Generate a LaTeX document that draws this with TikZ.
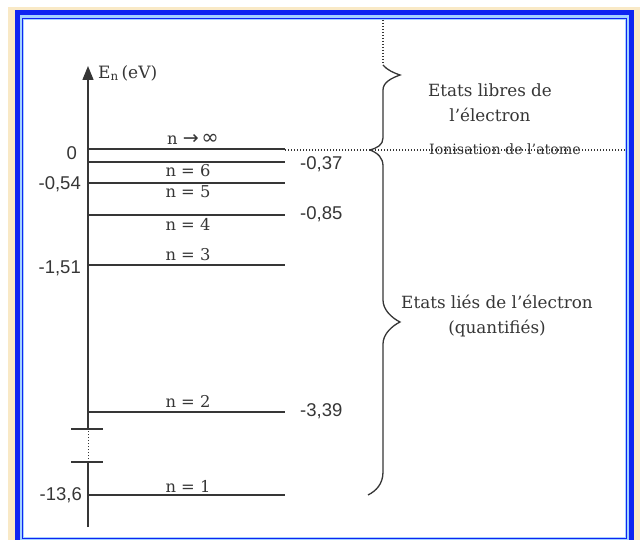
\documentclass[tikz,border=0pt]{standalone}
\usepackage{amsmath}
\usepackage{fontspec}
\setmainfont{DejaVu Serif}
\newfontfamily\numfont{Liberation Sans}
\newfontfamily\symbfont{DejaVu Sans}
\usetikzlibrary{arrows.meta}
\definecolor{framebl}{HTML}{0F24F2}
\definecolor{framelt}{HTML}{A4D2FF}
\definecolor{parch}{HTML}{F9E9C6}
\definecolor{inkgray}{HTML}{363636}

\begin{document}
\begin{tikzpicture}[x=1pt, y=-1pt,
    level/.style={draw=inkgray, line width=1.4pt},
    dots/.style={draw=inkgray, line width=1.2pt, dash pattern=on 1.2pt off 1.8pt},
    brace/.style={draw=inkgray, line width=1.3pt},
    nlabel/.style={text=inkgray, inner sep=0pt, font=\fontsize{16.3}{19}\selectfont},
    evlabel/.style={text=inkgray, inner sep=0pt, font=\numfont\fontsize{18.5}{22}\selectfont},
    statelabel/.style={text=inkgray, inner sep=0pt, align=center, font=\fontsize{16.8}{25}\selectfont}]
  \useasboundingbox (0,0) rectangle (640,540);

  % Frame
  \fill[white] (0,0) rectangle (640,540);
  \fill[parch] (8,7) rectangle (640,540);
  \fill[framebl] (15,10) rectangle (634,548);
  \fill[framelt] (20,15) rectangle (629,543);
  \draw[framebl, line width=1pt] (22.5,18.5) rectangle (626.5,538);
  \fill[white] (24,20) rectangle (625,536.5);

  % Energy axis (broken between n=2 and n=1)
  \draw[level] (88,527) -- (88,462);
  \draw[dots, line width=1pt] (88,462) -- (88,429);
  \draw[level, -{Triangle[length=14pt, width=11pt]}] (88,429) -- (88,66);
  \draw[level] (71,429) -- (103,429);
  \draw[level] (71,462) -- (103,462);
  \node[nlabel, anchor=west, font=\fontsize{17}{20}\selectfont] (axlabel) at (98,73) {E$_{\text{n}}$\,(eV)};

  % Levels
  \draw[level] (88,149) -- (285,149);
  \draw[level] (88,162) -- (285,162);
  \draw[level] (88,183) -- (285,183);
  \draw[level] (88,215) -- (285,215);
  \draw[level] (88,265) -- (285,265);
  \draw[level] (88,412) -- (285,412);
  \draw[level] (88,495) -- (285,495);

  % Level names
  \node[nlabel] (ninf) at (193,139) {n {\symbfont\fontsize{19}{19}\selectfont→}\,{\symbfont\fontsize{21}{21}\selectfont∞}};
  \node[nlabel] (n6) at (188,171) {n = 6};
  \node[nlabel] (n5) at (188,192) {n = 5};
  \node[nlabel] (n4) at (188,224) {n = 4};
  \node[nlabel] (n3) at (188,255) {n = 3};
  \node[nlabel] (n2) at (188,401) {n = 2};
  \node[nlabel] (n1) at (188,486) {n = 1};

  % Energies, left side
  \node[evlabel, anchor=east] (e0) at (77,153) {0};
  \node[evlabel, anchor=east] (e5) at (81,184) {-0,54};
  \node[evlabel, anchor=east] (e3) at (81,268) {-1,51};
  \node[evlabel, anchor=east] (e1) at (82,495) {-13,6};

  % Energies, right side
  \node[evlabel, anchor=west] (e6) at (300,164) {-0,37};
  \node[evlabel, anchor=west] (e4) at (300,214) {-0,85};
  \node[evlabel, anchor=west] (e2) at (300,411) {-3,39};

  % Ionisation limit
  \draw[dots] (285,150) -- (625,150);
  \draw[dots] (383,20) -- (383,65);
  \node[text=inkgray, inner sep=0pt, font=\fontsize{14.2}{17}\selectfont] (ionis) at (505,149) {Ionisation de l’atome};

  % Braces
  \draw[brace] (383,65) .. controls (387,70) and (394,73) .. (400,75)
    .. controls (392,78) and (383,82) .. (383,90) -- (383,138)
    .. controls (383,145) and (377,148) .. (370,150);
  \draw[brace] (370,150) .. controls (378,153) and (383,158) .. (383,166) -- (383,300)
    .. controls (383,310) and (392,318) .. (400,322)
    .. controls (392,326) and (383,334) .. (383,344) -- (383,472)
    .. controls (383,484) and (376,491) .. (368,495);

  % State descriptions
  \node[statelabel] (libres) at (490,103) {Etats libres de\\l’électron};
  \node[statelabel] (lies) at (497,316) {Etats liés de l’électron\\(quantifiés)};
\end{tikzpicture}
\end{document}
